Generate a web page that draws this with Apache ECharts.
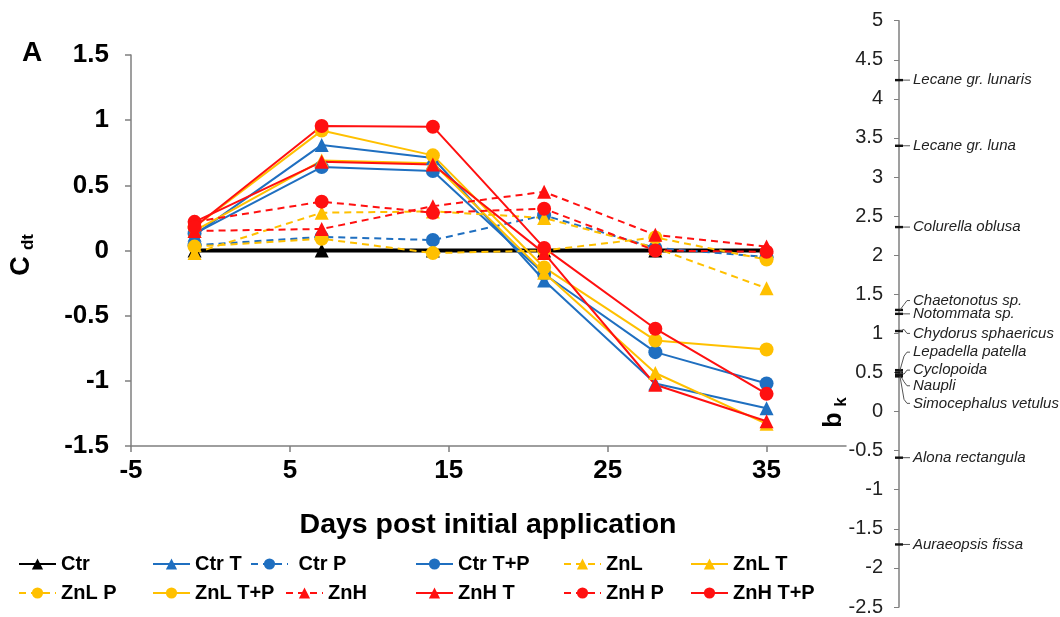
<!DOCTYPE html>
<html>
<head>
<meta charset="utf-8">
<script src="https://cdn.jsdelivr.net/npm/echarts@6/dist/echarts.min.js"></script>
<style>
  html, body { margin: 0; padding: 0; background: #fff; }
  #chart { width: 1060px; height: 617px; }
</style>
</head>
<body>
<div id="chart"></div>
<script>
// Sampling days (post initial application)
const days = [-1, 7, 14, 21, 28, 35];

// C_dt values per treatment
const ctr   = [0, 0, 0, 0, 0, 0];
const ctrT  = [0.12, 0.81, 0.71, -0.23, -1.02, -1.21];
const ctrP  = [0.04, 0.105, 0.08, 0.27, 0.02, -0.05];
const ctrTP = [0.13, 0.64, 0.61, -0.18, -0.78, -1.02];
const znL   = [-0.02, 0.29, 0.30, 0.25, 0.02, -0.29];
const znLT  = [0.15, 0.69, 0.67, -0.17, -0.94, -1.33];
const znLP  = [0.03, 0.09, -0.02, 0.0, 0.10, -0.07];
const znLTP = [0.18, 0.92, 0.73, -0.13, -0.69, -0.76];
const znH   = [0.15, 0.165, 0.34, 0.45, 0.12, 0.03];
const znHT  = [0.22, 0.68, 0.66, -0.02, -1.03, -1.31];
const znHP  = [0.22, 0.375, 0.29, 0.32, 0.0, -0.01];
const znHTP = [0.18, 0.955, 0.95, 0.02, -0.60, -1.10];

// Species weights b_k and where each name label sits on the b_k scale
const speciesNames = ['Lecane gr. lunaris', 'Lecane gr. luna', 'Colurella oblusa',
  'Chaetonotus sp.', 'Notommata sp.', 'Chydorus sphaericus', 'Lepadella patella',
  'Cyclopoida', 'Naupli', 'Simocephalus vetulus', 'Alona rectangula', 'Auraeopsis fissa'];
const speciesBk = [4.24, 3.40, 2.36, 1.30, 1.25, 1.03, 0.53, 0.50, 0.47, 0.45, -0.59, -1.70];
const speciesLabelAt = [4.24, 3.40, 2.36, 1.42, 1.25, 1.00, 0.76, 0.53, 0.33, 0.105, -0.59, -1.70];

const BLUE = '#1f6fc0', YELLOW = '#ffc000', RED = '#ff1010', BLACK = '#000000';

function pairs(vals) { return days.map((d, i) => [d, vals[i]]); }

function lineSeries(name, vals, color, symbol, dashed, width) {
  return {
    name: name,
    type: 'line',
    xAxisIndex: 0, yAxisIndex: 0,
    data: pairs(vals),
    symbol: symbol,
    symbolSize: 14,
    showSymbol: true,
    itemStyle: { color: color },
    lineStyle: { color: color, width: width || 2, type: dashed ? [7, 5] : 'solid' },
    emphasis: { disabled: true },
    animation: false
  };
}

const series = [
  lineSeries('Ctr', ctr, BLACK, 'triangle', false, 4),
  lineSeries('Ctr T', ctrT, BLUE, 'triangle', false),
  lineSeries('Ctr P', ctrP, BLUE, 'circle', true),
  lineSeries('Ctr T+P', ctrTP, BLUE, 'circle', false),
  lineSeries('ZnL', znL, YELLOW, 'triangle', true),
  lineSeries('ZnL T', znLT, YELLOW, 'triangle', false),
  lineSeries('ZnL P', znLP, YELLOW, 'circle', true),
  lineSeries('ZnL T+P', znLTP, YELLOW, 'circle', false),
  lineSeries('ZnH', znH, RED, 'triangle', true),
  lineSeries('ZnH T', znHT, RED, 'triangle', false),
  lineSeries('ZnH P', znHP, RED, 'circle', true),
  lineSeries('ZnH T+P', znHTP, RED, 'circle', false)
];

// Species markers on the b_k scale, with leader lines and italic names
series.push({
  type: 'custom',
  name: 'species',
  coordinateSystem: 'cartesian2d',
  xAxisIndex: 1, yAxisIndex: 1,
  data: speciesBk.map((b, i) => [0, b, speciesLabelAt[i]]),
  animation: false,
  silent: true,
  renderItem: function (params, api) {
    const p0 = api.coord([0, api.value(1)]);
    const p1 = api.coord([0, api.value(2)]);
    const ax = p0[0];
    const children = [{
      type: 'rect',
      shape: { x: ax - 4, y: p0[1] - 1.2, width: 8, height: 2.4 },
      style: { fill: '#111' }
    }];
    let pts;
    if (Math.abs(p0[1] - p1[1]) < 1) {
      pts = [[ax + 4, p0[1]], [ax + 11, p0[1]]];
    } else {
      pts = [[ax + 1, p0[1]], [ax + 5, p1[1] + (p0[1] > p1[1] ? 4 : -4)], [ax + 8, p1[1]], [ax + 11, p1[1]]];
    }
    children.push({
      type: 'polyline',
      shape: { points: pts },
      style: { stroke: '#555', lineWidth: 1, fill: null }
    });
    children.push({
      type: 'text',
      x: ax + 14, y: p1[1],
      style: {
        text: speciesNames[params.dataIndex],
        fill: '#222',
        font: 'italic 15px "Liberation Sans", Arial, sans-serif',
        align: 'left', verticalAlign: 'middle'
      }
    });
    return { type: 'group', children: children };
  }
});

// Legend: two rows of six entries
const legendRows = [
  ['Ctr', 'Ctr T', 'Ctr P', 'Ctr T+P', 'ZnL', 'ZnL T'],
  ['ZnL P', 'ZnL T+P', 'ZnH', 'ZnH T', 'ZnH P', 'ZnH T+P']
];
const legendLeft = [[18, 152, 250, 415, 563, 690], [18, 152, 285, 415, 563, 690]];
const legendTop = [554, 583];
const legends = [];
legendRows.forEach((row, r) => {
  row.forEach((name, c) => {
    legends.push({
      data: [name],
      left: legendLeft[r][c],
      top: legendTop[r],
      padding: 0,
      itemWidth: 37,
      itemHeight: 14,
      itemGap: 0,
      selectedMode: false,
      formatter: name === 'Ctr P' ? ' Ctr P' : undefined,
      textStyle: { fontFamily: '"Liberation Sans", Arial, sans-serif', fontWeight: 'bold', fontSize: 20, color: '#000' }
    });
  });
});

const axisGray = '#7f7f7f';
const boldFont = '"Liberation Sans", Arial, sans-serif';

const option = {
  backgroundColor: '#fff',
  animation: false,
  grid: [
    { left: 131, top: 55, width: 715, height: 391, containLabel: false },
    { left: 899, top: 20.7, width: 150, height: 588.9, containLabel: false }
  ],
  xAxis: [
    {
      type: 'value', gridIndex: 0, min: -5, max: 40, interval: 10,
      axisLine: { show: true, onZero: false, lineStyle: { color: axisGray, width: 1.5 } },
      axisTick: { show: true, length: 6, lineStyle: { color: axisGray, width: 1.5 } },
      axisLabel: { showMaxLabel: false, margin: 12, color: '#000', fontFamily: boldFont, fontWeight: 'bold', fontSize: 26 },
      splitLine: { show: false }
    },
    {
      type: 'value', gridIndex: 1, min: 0, max: 10, show: false
    }
  ],
  yAxis: [
    {
      type: 'value', gridIndex: 0, min: -1.5, max: 1.5, interval: 0.5,
      axisLine: { show: true, onZero: false, lineStyle: { color: axisGray, width: 1.5 } },
      axisTick: { show: true, length: 6, lineStyle: { color: axisGray, width: 1.5 } },
      axisLabel: { margin: 22, color: '#000', fontFamily: boldFont, fontWeight: 'bold', fontSize: 26 },
      splitLine: { show: false }
    },
    {
      type: 'value', gridIndex: 1, position: 'left', min: -2.5, max: 5, interval: 0.5,
      axisLine: { show: true, onZero: false, lineStyle: { color: axisGray, width: 1.5 } },
      axisTick: { show: true, length: 5, lineStyle: { color: axisGray, width: 1 } },
      axisLabel: { margin: 16, color: '#222', fontFamily: boldFont, fontSize: 20 },
      splitLine: { show: false }
    }
  ],
  legend: legends,
  graphic: [
    { type: 'text', x: 32, y: 53, style: { text: 'A', font: 'bold 28px ' + boldFont, fill: '#000', align: 'center', verticalAlign: 'middle' } },
    { type: 'text', x: 22, y: 266, rotation: Math.PI / 2, style: { text: 'C', font: 'bold 27px ' + boldFont, fill: '#000', align: 'center', verticalAlign: 'middle' } },
    { type: 'text', x: 28, y: 242, rotation: Math.PI / 2, style: { text: 'dt', font: 'bold 17px ' + boldFont, fill: '#000', align: 'center', verticalAlign: 'middle' } },
    { type: 'text', x: 834, y: 420, rotation: Math.PI / 2, style: { text: 'b', font: 'bold 25px ' + boldFont, fill: '#000', align: 'center', verticalAlign: 'middle' } },
    { type: 'text', x: 841, y: 402, rotation: Math.PI / 2, style: { text: 'k', font: 'bold 17px ' + boldFont, fill: '#000', align: 'center', verticalAlign: 'middle' } },
    { type: 'text', x: 488, y: 525, style: { text: 'Days post initial application', font: 'bold 28.5px ' + boldFont, fill: '#000', align: 'center', verticalAlign: 'middle' } }
  ],
  series: series
};

const chart = echarts.init(document.getElementById('chart'), null, { renderer: 'canvas' });
chart.setOption(option);
</script>
</body>
</html>
